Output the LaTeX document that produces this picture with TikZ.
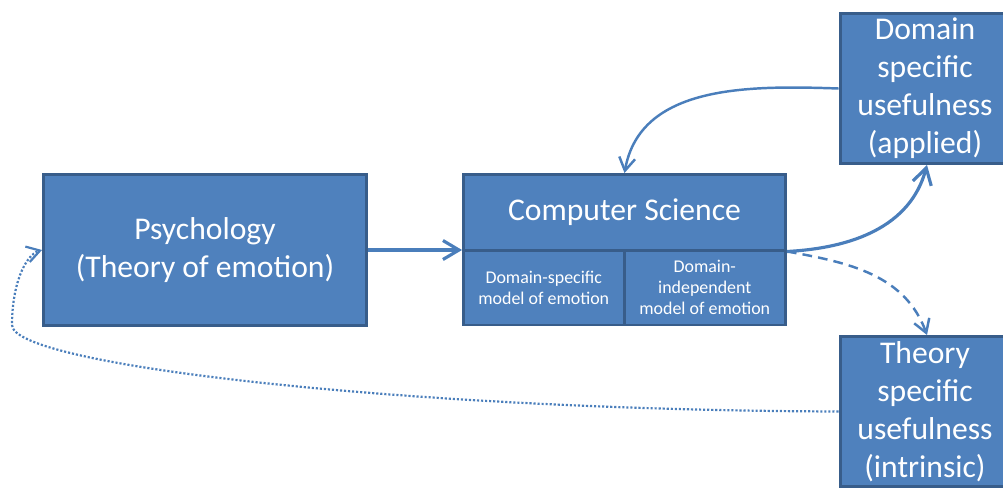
\documentclass[tikz,border=0pt]{standalone}
\usepackage{fontspec}
\setmainfont{Carlito}
\usepackage{xcolor}
\usetikzlibrary{arrows.meta}
\definecolor{boxfill}{HTML}{4F81BD}
\definecolor{boxline}{HTML}{385D8A}
\definecolor{linkblue}{HTML}{4A7EBB}

\begin{document}
\begin{tikzpicture}[x=0.02cm,y=-0.02cm,
  box/.style={draw=boxline,fill=boxfill,line width=1.7pt,text=white,align=center,inner sep=0pt,font=\fontsize{18}{21.6}\selectfont},
  smallbox/.style={box,font=\fontsize{10.2}{11.9}\selectfont},
  thick link/.style={draw=linkblue,line width=1.8pt,-{Straight Barb[length=3.2mm,width=3.8mm]}},
  thin link/.style={draw=linkblue,line width=1.4pt,-{Straight Barb[length=2.6mm,width=3.2mm]}}]
\useasboundingbox (0,0) rectangle (1003,487);
% boxes
\node [box,minimum width=6.46cm,minimum height=3.01cm] (psych) at (205,250) {Psychology\\(Theory of emotion)};
\node [box,minimum width=6.44cm,minimum height=1.51cm] (cs) at (624.5,212.25) {Computer Science};
\node [smallbox,minimum width=3.21cm,minimum height=1.5cm] (dsm) at (543.75,287.5) {Domain-specific\\model of emotion};
\node [smallbox,minimum width=3.23cm,minimum height=1.5cm] (dim) at (704.75,287.5) {Domain-\\independent\\model of emotion};
\node [box,minimum width=3.4cm,minimum height=3cm] (dom) at (925,88.5) {Domain\\specific\\usefulness\\(applied)};
\node [box,minimum width=3.4cm,minimum height=3cm] (the) at (925,411.5) {Theory\\specific\\usefulness\\(intrinsic)};
% links
\draw [thick link] (psych.east) -- (psych.east -| cs.west);
\draw [thin link] (dom.west) to[out=178,in=80] (cs.north);
\draw [thick link] (cs.south east) to[out=3,in=-105] ([xshift=0.04cm]dom.south);
\draw [thin link,dash pattern=on 5.5pt off 3.5pt] (cs.south east) to[out=-10,in=110] ([xshift=0.04cm]the.north);
\draw [thin link,line width=1.25pt,dash pattern=on 1.2pt off 1.1pt] (the.west) .. controls (400,410) and (12,365) .. (12,325) .. controls (12,285) and (25,255) .. (psych.west);
\end{tikzpicture}
\end{document}
